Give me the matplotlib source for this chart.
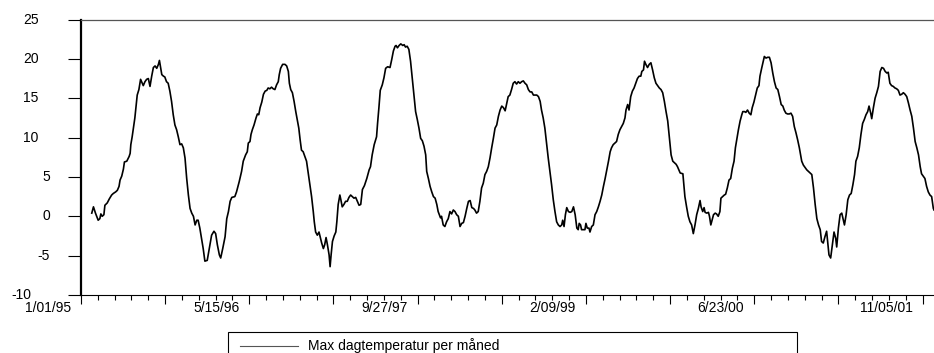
import matplotlib
matplotlib.use("Agg")
import matplotlib.pyplot as plt
import matplotlib.transforms as mtransforms
from matplotlib.patches import Rectangle
from matplotlib.lines import Line2D
import pandas as pd

plt.rcParams['font.family'] = ['Liberation Sans', 'DejaVu Sans']

# Data lest av figuren: dager etter startdato og temperatur (grader C)
startdato = "1995-01-01"
siste_dag = 2534

dag = [32, 37, 43, 51, 56, 59, 63, 68, 71, 78, 84, 91, 96, 103, 108, 113, 116, 121, 126, 129,
       136, 143, 146, 148, 152, 155, 160, 163, 167, 172, 177, 180, 185, 190, 195, 200, 205, 210, 215, 220,
       225, 230, 233, 237, 240, 245, 249, 254, 259, 264, 269, 274, 279, 284, 289, 294, 299, 304, 309, 314,
       319, 324, 329, 334, 339, 344, 348, 353, 363, 368, 375, 381, 388, 395, 400, 405, 411, 415, 421, 428,
       433, 438, 443, 448, 457, 462, 470, 477, 482, 489, 494, 497, 502, 505, 509, 514, 520, 524, 528, 532,
       537, 542, 547, 552, 556, 561, 566, 571, 576, 581, 586, 589, 593, 599, 606, 611, 616, 619, 623, 628,
       633, 638, 643, 647, 651, 655, 660, 665, 670, 675, 680, 685, 690, 693, 697, 702, 707, 715, 720, 724,
       728, 732, 737, 740, 743, 747, 752, 757, 760, 764, 769, 772, 776, 781, 786, 791, 796, 801, 806, 811,
       816, 821, 826, 831, 836, 842, 849, 856, 860, 865, 871, 878, 881, 885, 889, 895, 900, 905, 911, 918,
       923, 928, 933, 936, 940, 945, 950, 956, 960, 964, 969, 974, 979, 984, 989, 994, 999, 1004, 1009, 1014,
       1019, 1024, 1027, 1032, 1037, 1042, 1047, 1052, 1057, 1061, 1068, 1071, 1076, 1081, 1086, 1091, 1096, 1101, 1106, 1111,
       1116, 1121, 1126, 1131, 1136, 1141, 1146, 1151, 1156, 1161, 1166, 1170, 1175, 1180, 1185, 1190, 1195, 1200, 1205, 1210,
       1215, 1220, 1225, 1230, 1235, 1240, 1245, 1250, 1255, 1260, 1265, 1269, 1274, 1279, 1284, 1289, 1294, 1299, 1304, 1309,
       1314, 1319, 1324, 1329, 1334, 1339, 1344, 1349, 1354, 1359, 1364, 1368, 1373, 1378, 1383, 1388, 1393, 1398, 1403, 1408,
       1413, 1418, 1423, 1428, 1431, 1435, 1439, 1443, 1448, 1453, 1458, 1463, 1468, 1473, 1477, 1480, 1484, 1487, 1492, 1497,
       1500, 1504, 1509, 1512, 1517, 1522, 1527, 1532, 1537, 1542, 1547, 1552, 1557, 1562, 1567, 1572, 1576, 1581, 1586, 1591,
       1596, 1601, 1606, 1611, 1616, 1619, 1624, 1628, 1633, 1638, 1643, 1648, 1653, 1658, 1663, 1666, 1671, 1674, 1678, 1683,
       1688, 1693, 1698, 1703, 1708, 1713, 1718, 1723, 1728, 1733, 1738, 1743, 1748, 1753, 1758, 1763, 1768, 1772, 1780, 1788,
       1791, 1794, 1799, 1804, 1809, 1814, 1819, 1824, 1829, 1834, 1839, 1842, 1847, 1851, 1854, 1859, 1864, 1867, 1871, 1876,
       1879, 1884, 1888, 1893, 1898, 1901, 1906, 1911, 1915, 1920, 1925, 1930, 1935, 1940, 1944, 1948, 1953, 1958, 1963, 1966,
       1971, 1975, 1980, 1985, 1990, 1994, 1999, 2004, 2009, 2014, 2017, 2022, 2027, 2030, 2035, 2040, 2045, 2050, 2055, 2060,
       2065, 2070, 2075, 2080, 2085, 2089, 2094, 2099, 2104, 2109, 2114, 2119, 2124, 2129, 2134, 2141, 2146, 2151, 2156, 2161,
       2166, 2171, 2176, 2181, 2186, 2191, 2196, 2200, 2205, 2210, 2215, 2218, 2222, 2227, 2232, 2237, 2242, 2245, 2250, 2255,
       2260, 2265, 2268, 2273, 2278, 2283, 2288, 2293, 2298, 2302, 2307, 2312, 2317, 2322, 2327, 2332, 2337, 2341, 2346, 2349,
       2354, 2359, 2364, 2369, 2374, 2379, 2384, 2389, 2394, 2398, 2403, 2408, 2413, 2418, 2423, 2428, 2433, 2438, 2443, 2448,
       2453, 2458, 2463, 2468, 2473, 2478, 2483, 2488, 2493, 2497, 2502, 2507, 2512, 2517, 2522, 2527, 2532, 2534]

temp = [0.4, 1.2, 0.4, -0.5, -0.3, 0.3, 0.0, 0.2, 1.4, 1.7, 2.2, 2.7, 2.9, 3.1, 3.3, 3.8, 4.6, 5.1, 6.0, 6.9,
        7.0, 7.6, 8.0, 9.1, 10.1, 11.0, 12.5, 13.8, 15.4, 16.1, 17.4, 17.1, 16.6, 17.1, 17.4, 17.5, 16.5, 17.8, 18.9, 19.1,
        18.8, 19.3, 19.8, 18.8, 18.0, 17.8, 17.7, 17.1, 16.9, 15.9, 14.6, 12.9, 11.6, 11.0, 10.1, 9.1, 9.2, 8.7, 7.4, 4.8,
        2.7, 1.0, 0.4, 0.0, -1.1, -0.5, -0.5, -1.5, -4.1, -5.7, -5.6, -4.1, -2.4, -1.9, -2.2, -3.6, -4.9, -5.3, -4.1, -2.6,
        -0.3, 0.6, 1.9, 2.4, 2.5, 3.1, 4.4, 5.7, 7.0, 7.8, 8.2, 9.3, 9.5, 10.4, 11.0, 11.6, 12.5, 13.0, 12.9, 13.8,
        14.5, 15.5, 15.9, 16.0, 16.3, 16.2, 16.4, 16.2, 16.1, 16.7, 17.1, 18.0, 18.8, 19.3, 19.3, 19.1, 18.4, 16.9, 16.1, 15.7,
        14.6, 13.3, 12.1, 11.2, 9.7, 8.4, 8.2, 7.6, 7.0, 5.5, 4.0, 2.5, 0.6, -0.7, -2.0, -2.4, -2.0, -3.4, -4.1, -3.6,
        -2.7, -3.6, -4.9, -6.4, -4.9, -3.2, -2.5, -2.0, -0.7, 1.5, 2.7, 2.1, 1.2, 1.5, 1.9, 1.9, 2.4, 2.7, 2.5, 2.3,
        2.4, 1.9, 1.4, 1.5, 3.4, 3.9, 4.8, 5.9, 6.3, 7.8, 9.1, 10.1, 11.8, 13.8, 16.0, 16.7, 17.6, 18.8, 19.0, 18.9,
        19.9, 21.0, 21.6, 21.7, 21.4, 21.7, 21.9, 21.7, 21.8, 21.5, 21.6, 21.2, 19.7, 17.6, 15.4, 13.3, 12.3, 11.2, 9.9, 9.6,
        8.9, 7.8, 5.7, 4.8, 3.8, 3.1, 2.5, 2.3, 1.5, 0.6, -0.2, 0.0, -1.1, -1.3, -0.7, -0.3, 0.6, 0.3, 0.8, 0.6,
        0.2, 0.0, -1.3, -0.9, -0.8, 0.0, 1.0, 1.9, 2.0, 1.1, 1.0, 0.8, 0.4, 0.6, 1.9, 3.6, 4.2, 5.3, 5.7, 6.3,
        7.4, 8.7, 9.9, 11.2, 11.6, 12.7, 13.5, 14.0, 13.8, 13.4, 14.4, 15.2, 15.4, 16.1, 16.9, 17.1, 16.8, 17.1, 16.9, 17.1,
        17.2, 16.9, 16.7, 16.1, 15.8, 15.8, 15.4, 15.4, 15.4, 15.2, 14.6, 13.5, 12.5, 11.2, 9.3, 7.4, 5.7, 4.0, 2.1, 0.6,
        -0.7, -1.1, -1.3, -1.1, -0.5, -1.3, 0.2, 1.1, 0.6, 0.5, 0.6, 1.2, 0.2, -1.5, -1.7, -0.9, -1.1, -1.7, -1.7, -1.7,
        -0.9, -1.5, -1.5, -2.0, -1.3, -1.1, 0.2, 0.6, 1.2, 1.9, 2.7, 3.8, 4.8, 5.9, 7.0, 8.2, 8.7, 9.1, 9.3, 9.5,
        10.4, 11.0, 11.4, 11.8, 12.5, 13.5, 14.2, 13.5, 15.2, 15.9, 16.3, 16.9, 17.5, 17.8, 17.8, 18.4, 18.6, 19.7, 19.3, 18.9,
        19.3, 19.5, 18.6, 17.6, 16.9, 16.6, 16.3, 16.1, 15.7, 14.6, 13.3, 12.1, 9.9, 7.8, 7.0, 6.8, 6.6, 6.3, 5.5, 5.4,
        4.0, 2.5, 1.2, 0.0, -0.7, -1.1, -2.2, -1.1, 0.2, 1.0, 2.0, 1.2, 0.6, 1.1, 0.5, 0.4, 0.5, 0.0, -1.1, -0.3,
        0.2, 0.4, 0.3, 0.0, 0.6, 2.3, 2.5, 2.7, 2.8, 3.6, 4.6, 4.8, 6.1, 7.0, 8.7, 9.7, 11.0, 12.1, 12.9, 13.3,
        13.3, 13.2, 13.5, 13.1, 12.9, 13.8, 14.5, 15.4, 16.3, 16.6, 17.8, 18.8, 19.7, 20.3, 20.1, 20.2, 20.2, 19.5, 18.2, 17.1,
        16.3, 16.1, 15.2, 14.2, 14.0, 13.5, 13.1, 13.0, 13.0, 13.1, 12.7, 11.4, 10.6, 9.7, 8.7, 7.0, 6.5, 6.2, 5.9, 5.7,
        5.5, 5.3, 3.6, 1.5, -0.3, -1.1, -1.7, -3.2, -3.4, -2.6, -1.9, -3.2, -4.9, -5.3, -3.6, -2.0, -2.8, -3.9, -1.5, 0.2,
        0.4, -0.5, -1.1, 0.2, 2.1, 2.7, 2.9, 4.0, 5.3, 7.0, 7.6, 8.7, 10.4, 11.8, 12.3, 12.9, 13.3, 14.0, 13.1, 12.4,
        13.8, 15.0, 15.7, 16.5, 18.4, 18.9, 18.8, 18.4, 18.2, 18.3, 16.9, 16.6, 16.5, 16.3, 16.2, 16.0, 15.4, 15.5, 15.7, 15.5,
        15.2, 14.4, 13.5, 12.7, 11.2, 9.5, 8.7, 7.8, 6.3, 5.4, 5.1, 4.8, 3.8, 3.1, 2.7, 2.5, 1.0, 0.8]

y_ticks = [-10, -5, 0, 5, 10, 15, 20, 25]
x_etiketter = ["1/01/95", "5/15/96", "9/27/97", "2/09/99", "6/23/00", "11/05/01"]
serienavn = "Max dagtemperatur per måned"

start = pd.Timestamp(startdato)
slutt = start + pd.Timedelta(days=siste_dag)
datoer = start + pd.to_timedelta(dag, unit="D")

W, H = 934, 353
fig = plt.figure(figsize=(W / 100, H / 100), dpi=100)
ax = fig.add_axes([81 / W, 1 - 295 / H, 1 - 81 / W, (295 - 19.5) / H])

ax.plot(datoer, temp, color="black", lw=1.2)

ax.set_xlim(start, slutt)
ax.set_ylim(-10, 25)

# x-akse: store streker hver 250. dag, etikett hver 500. dag, små hver 50. dag
store = pd.date_range(start, slutt, freq="250D")
sma = pd.date_range(start, slutt, freq="50D")
ax.set_xticks(store)
etiketter = []
for i in range(len(store)):
    etiketter.append(x_etiketter[i // 2] if i % 2 == 0 else "")
ax.set_xticklabels(etiketter, fontsize=10, ha="right")
ax.set_xticks(sma, minor=True)
ax.tick_params(axis="x", which="major", direction="out", length=6.2, width=0.8, pad=-1.6)
ax.tick_params(axis="x", which="minor", direction="out", length=3.4, width=0.8)
flytt = mtransforms.ScaledTranslation(-10 / 100, 0, fig.dpi_scale_trans)
for lab in ax.get_xticklabels():
    lab.set_transform(lab.get_transform() + flytt)

# y-akse
ax.set_yticks(y_ticks)
ax.set_yticklabels([str(v) for v in y_ticks], fontsize=10, ha="right")
ax.tick_params(axis="y", direction="out", length=9.4, width=0.8, pad=21)
ekstra = {"5": 11, "0": 11, "-5": 11, "-10": -7}
for lab in ax.get_yticklabels():
    dx = ekstra.get(lab.get_text(), 0)
    lab.set_transform(lab.get_transform() + mtransforms.ScaledTranslation(dx / 100, 1.5 / 100, fig.dpi_scale_trans))

ax.spines["right"].set_visible(False)
ax.spines["left"].set_linewidth(1.6)
ax.spines["top"].set_color("#555555")
ax.spines["top"].set_linewidth(0.9)
ax.spines["bottom"].set_linewidth(0.8)

# forklaringsboks nederst (kuttet av bildekanten)
boks = Rectangle((228 / W, -0.1), (797 - 228) / W, 0.1 + 1 - 332 / H, transform=fig.transFigure,
                 fill=False, edgecolor="black", lw=0.8)
fig.add_artist(boks)
fig.add_artist(Line2D([240 / W, 298 / W], [1 - 346 / H, 1 - 346 / H], transform=fig.transFigure,
                      color="#555555", lw=0.8))
fig.text(308 / W, 1 - 346 / H, serienavn, fontsize=10, va="center", ha="left")

fig.savefig("out.png", dpi=100)
